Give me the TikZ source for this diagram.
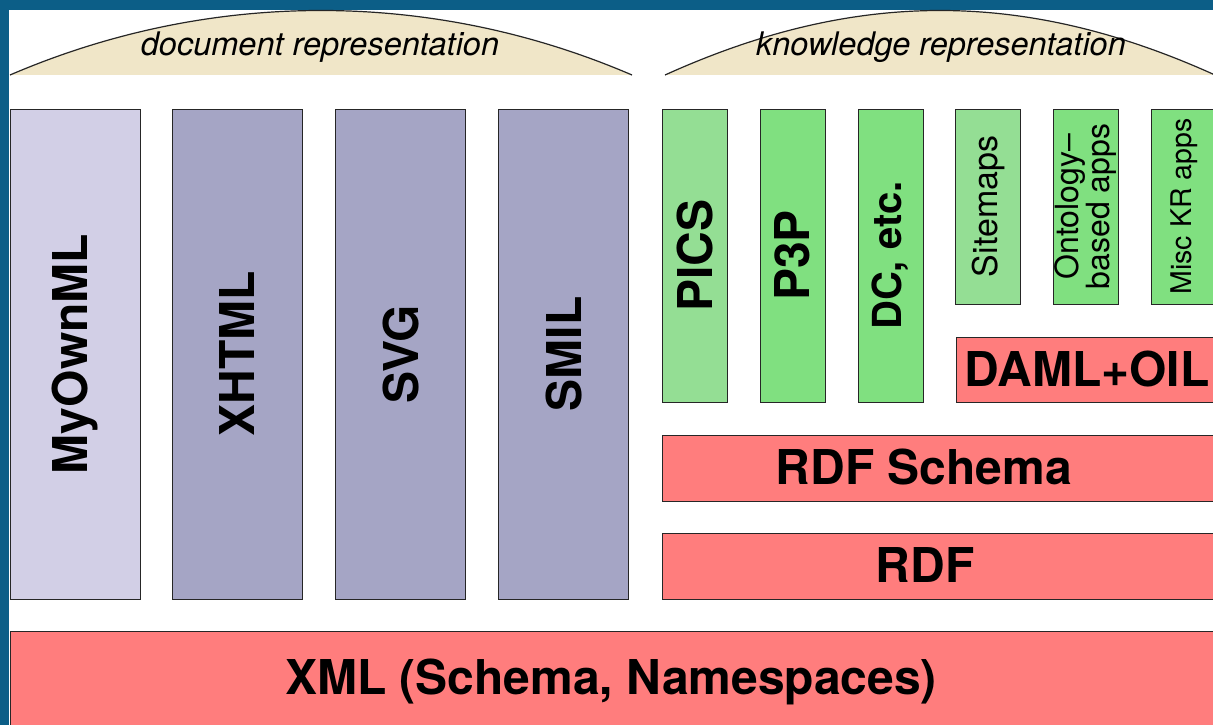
\documentclass[tikz,border=0pt]{standalone}
\usepackage{fontspec}
\setmainfont{TeX Gyre Heros}
\definecolor{frame}{RGB}{12,94,135}
\definecolor{dome}{RGB}{240,230,200}
\definecolor{lilac}{RGB}{210,207,230}
\definecolor{slate}{RGB}{165,165,197}
\definecolor{paleleaf}{RGB}{148,222,148}
\definecolor{leaf}{RGB}{128,224,128}
\definecolor{salmon}{RGB}{255,125,125}

\begin{document}
\begin{tikzpicture}[x=1pt,y=-1pt,
    layer/.style={draw=black!85, line width=1pt, inner sep=0pt},
    big/.style={font=\fontsize{48}{50}\selectfont\bfseries},
    roof/.style={font=\fontsize{32.5}{34}\selectfont\itshape}]
\useasboundingbox (0,0) rectangle (1213,725);
\fill[frame](0,0) rectangle (1213,725);
\fill[white](9,10) rectangle (1213,725);

\fill[dome](10,75) .. controls (210,-11) and (432,-11) .. (632,75) -- cycle;
\draw[black!85, line width=1.2pt](10,75) .. controls (210,-11) and (432,-11) .. (632,75);
\fill[dome](665,75) .. controls (855,-11) and (1025,-11) .. (1215,75) -- cycle;
\draw[black!85, line width=1.2pt](665,75) .. controls (855,-11) and (1025,-11) .. (1215,75);
\node[roof] (docrep) at (320,47) {document representation};
\node[roof] (knowrep) at (941,47) {knowledge representation};

\foreach \n/\x/\c/\t in {myown/75/lilac/MyOwnML,xhtml/237.5/slate/XHTML,svg/400.5/slate/SVG,smil/563.5/slate/SMIL}
{
    \node[layer, big, fill=\c, rotate=90, minimum width=490pt, minimum height=130pt] (\n) at (\x,354) {\t};
}

\foreach \n/\x/\c/\t in {pics/694.5/paleleaf/PICS,p3p/792.5/leaf/P3P}
{
    \node[layer, big, fill=\c, rotate=90, minimum width=293pt, minimum height=65pt] (\n) at (\x,255.5) {\t};
}
\node[layer, fill=leaf, rotate=90, minimum width=293pt, minimum height=65pt,
    font=\fontsize{40}{42}\selectfont\bfseries] (dc) at (890.5,255.5) {DC, etc.};

\node[layer, fill=paleleaf, rotate=90, minimum width=195pt, minimum height=65pt,
    font=\fontsize{34}{36}\selectfont] (sitemaps) at (988,206.5) {Sitemaps};
\node[layer, fill=leaf, rotate=90, minimum width=195pt, minimum height=65pt, align=center,
    font=\fontsize{32}{29}\selectfont] (onto) at (1085.5,206.5) {Ontology--\\based apps};
\node[layer, fill=leaf, rotate=90, minimum width=195pt, minimum height=66pt,
    font=\fontsize{28.5}{30}\selectfont] (misc) at (1184,206.5) {Misc KR apps};

\node[layer, big, fill=salmon, minimum width=262pt, minimum height=65pt] (daml) at (1087,369.5) {DAML+OIL};
\node[layer, fill=salmon, minimum width=554pt, minimum height=66pt] (rdfs) at (939,468) {};
\node[big] (rdfslbl) at (924,467) {RDF Schema};
\node[layer, fill=salmon, minimum width=554pt, minimum height=66pt] (rdf) at (939,566) {};
\node[big] (rdflbl) at (925,565) {RDF};
\node[layer, fill=salmon, minimum width=1208pt, minimum height=104pt] (xml) at (614,683) {};
\node[big] (xmllbl) at (611,682) {XML (Schema, Namespaces)};

\end{tikzpicture}
\end{document}
